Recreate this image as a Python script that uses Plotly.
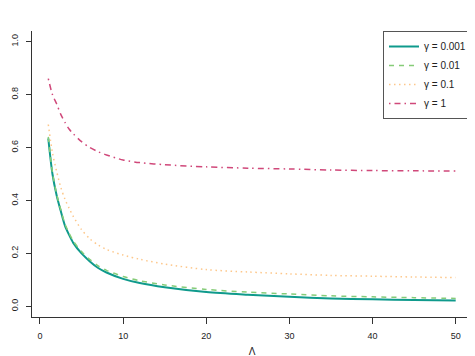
import plotly.graph_objects as go

lam = [1, 1.5, 2, 2.5, 3, 3.5, 4, 5, 6, 7, 8, 10, 12, 15, 20, 25, 30, 35, 40, 45, 50]

g0001 = [0.634, 0.50, 0.42, 0.36, 0.305, 0.27, 0.24, 0.20, 0.17, 0.145, 0.128,
         0.104, 0.088, 0.072, 0.054, 0.044, 0.036, 0.030, 0.027, 0.024, 0.022]
g001 = [0.640, 0.505, 0.425, 0.365, 0.312, 0.277, 0.247, 0.207, 0.177, 0.153, 0.136,
        0.113, 0.097, 0.081, 0.064, 0.054, 0.047, 0.040, 0.036, 0.033, 0.030]
g01 = [0.687, 0.58, 0.51, 0.45, 0.405, 0.371, 0.34, 0.29, 0.255, 0.232, 0.215,
       0.194, 0.178, 0.160, 0.139, 0.130, 0.123, 0.117, 0.114, 0.111, 0.109]
g1 = [0.86, 0.80, 0.765, 0.725, 0.695, 0.67, 0.652, 0.622, 0.60, 0.584, 0.572,
      0.553, 0.543, 0.535, 0.527, 0.522, 0.519, 0.515, 0.513, 0.512, 0.511]

series = [
    ("γ = 0.001", g0001, "#0F9A8C", "solid", 2),
    ("γ = 0.01", g001, "#86CC78", "5px,5px", 1.5),
    ("γ = 0.1", g01, "#FDC78A", "1.5px,3.5px", 1.5),
    ("γ = 1", g1, "#D0487A", "1.5px,4px,6px,4px", 1.5),
]

fig = go.Figure()
for name, vals, color, dash, width in series:
    fig.add_trace(go.Scatter(
        x=lam, y=vals, name=name, mode="lines",
        line=dict(color=color, dash=dash, width=width, shape="spline", smoothing=0.8),
    ))

fig.update_layout(
    width=475,
    height=356,
    margin=dict(l=24, r=11, t=23, b=47, autoexpand=False),
    plot_bgcolor="white",
    paper_bgcolor="white",
    font=dict(family="Liberation Sans, Arial, sans-serif", size=9, color="#222"),
    showlegend=True,
    legend=dict(
        x=1.0, y=1.0, xanchor="right", yanchor="top",
        bordercolor="#555", borderwidth=1, bgcolor="white",
        font=dict(size=10), tracegroupgap=0, itemwidth=30,
    ),
)

fig.update_xaxes(
    range=[-0.96, 51.96], tickvals=[0, 10, 20, 30, 40, 50],
    showgrid=False, zeroline=False, showline=True, linecolor="#333", linewidth=1,
    ticks="outside", ticklen=6, tickcolor="#333", ticklabelstandoff=4,
    title=dict(text="Λ", standoff=8, font=dict(size=10)),
)
fig.update_yaxes(
    range=[-0.04, 1.04], tickvals=[0, 0.2, 0.4, 0.6, 0.8, 1.0],
    ticktext=["0.0", "0.2", "0.4", "0.6", "0.8", "1.0"],
    showgrid=False, zeroline=False, showline=True, linecolor="#333", linewidth=1,
    ticks="outside", ticklen=5, tickcolor="#333", tickangle=-90, ticklabelstandoff=4,
)

fig.write_html("out.html")
